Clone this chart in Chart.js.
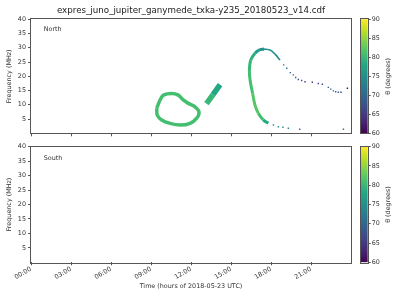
<!DOCTYPE html>
<html lang="en">
<head>
<meta charset="UTF-8">
<title>EXPRES Juno / Ganymede</title>
<script src="https://cdn.jsdelivr.net/npm/chart.js"></script>
<style>
  body { margin: 0; background: #fff; }
  .wrap { position: relative; width: 400px; height: 300px; }
  canvas { position: absolute; }
</style>
</head>
<body>
<div class="wrap">
  <canvas id="north" width="400" height="140" style="left:0;top:0"></canvas>
  <canvas id="south" width="400" height="160" style="left:0;top:140px"></canvas>
  <canvas id="cbNorth" width="60" height="140" style="left:340px;top:0"></canvas>
  <canvas id="cbSouth" width="60" height="160" style="left:340px;top:140px"></canvas>
</div>
<script>
// ---- data (time in hours of 2018-05-23, frequency in MHz, theta in degrees)
const xTickHours = [0, 3, 6, 9, 12, 15, 18, 21];
const xTickLabels = ['00:00', '03:00', '06:00', '09:00', '12:00', '15:00', '18:00', '21:00'];
const yTicks = [5, 10, 15, 20, 25, 30, 35, 40];
const cbTicks = [60, 65, 70, 75, 80, 85, 90];

// closed loop around 09:30-12:40
const loopTime  = [9.43, 9.68, 9.93, 10.55, 11.05, 11.42, 11.8, 12.3, 12.6, 12.43, 11.93, 11.18, 10.43, 9.8, 9.47, 9.43];
const loopFreq  = [8.8, 11.7, 13.4, 14.0, 13.4, 11.7, 10.5, 9.3, 7.5, 5.3, 3.5, 2.9, 3.5, 4.7, 6.4, 8.8];
const loopTheta = [81, 81, 81, 81, 81, 81, 81, 81, 81, 81, 81, 81, 81, 81, 81, 81];

// short diagonal blob near 13:00-14:15
const blobTime  = [13.16, 13.65, 14.18];
const blobFreq  = [10.4, 13.6, 17.1];
const blobTheta = [80, 78, 75];

// big arc: left side from bottom up to the peak
const arcTime  = [17.8, 17.42, 17.05, 16.8, 16.62, 16.43, 16.38, 16.48, 16.8, 17.1, 17.48];
const arcFreq  = [3.5, 4.7, 7.0, 9.9, 14.0, 18.7, 22.2, 25.7, 28.1, 29.2, 29.6];
const arcTheta = [78, 81, 82, 82, 81, 81, 80, 79, 77, 75, 75];

// arc: right side going down from the peak (thin)
const descTime  = [17.48, 17.93, 18.3, 18.68];
const descFreq  = [29.6, 29.2, 27.8, 25.7];
const descTheta = [75, 75, 74, 73];

// isolated dots (upper tail and lower tail)
const dotTime  = [18.95, 19.18, 19.45, 19.68, 19.85, 20.05, 20.3, 20.55, 21.1, 21.55, 21.85, 22.3, 22.48, 22.68, 22.85, 23.05, 23.25, 23.73,
                  18.18, 18.55, 18.9, 19.3, 20.15, 23.43];
const dotFreq  = [24.0, 22.8, 21.3, 20.5, 19.6, 18.9, 18.5, 18.1, 17.9, 17.5, 17.2, 16.1, 15.5, 14.9, 14.6, 14.4, 14.4, 15.8,
                  2.9, 2.3, 2.1, 1.75, 1.4, 1.4];
const dotTheta = [72, 71, 70, 69, 68, 67, 67, 66, 64, 65, 66, 69, 70, 70, 69, 68, 65, 61,
                  76, 75, 74, 73, 70, 72];

// ---- colours
const VIRIDIS = ['#440154', '#482475', '#414487', '#355f8d', '#2a788e', '#21918c',
                 '#22a884', '#44bf70', '#7ad151', '#bddf26', '#fde725'];

function hexRgb(h) {
    return [1, 3, 5].map(i => parseInt(h.slice(i, i + 2), 16));
}

function thetaColor(th) {
    let t = (th - 60) / 30;
    t = Math.max(0, Math.min(1, t)) * (VIRIDIS.length - 1);
    const i = Math.min(Math.floor(t), VIRIDIS.length - 2);
    const f = t - i;
    const a = hexRgb(VIRIDIS[i]), b = hexRgb(VIRIDIS[i + 1]);
    const c = a.map((v, k) => Math.round(v + (b[k] - v) * f));
    return `rgb(${c[0]},${c[1]},${c[2]})`;
}

const FONT = { family: 'DejaVu Sans', size: 6.4 };
const TEXT = '#333';
const SPINE = '#555';

// ---- plugins
const framePlugin = {
    id: 'frame',
    afterDraw(chart) {
        const { ctx, chartArea: a } = chart;
        ctx.save();
        ctx.strokeStyle = SPINE;
        ctx.lineWidth = 1;
        ctx.strokeRect(Math.round(a.left) - 0.5, Math.round(a.top) - 0.5,
                       Math.round(a.right - a.left) + 1, Math.round(a.bottom - a.top) + 1);
        ctx.restore();
    }
};

const textPlugin = {
    id: 'texts',
    afterDraw(chart, args, opts) {
        const ctx = chart.ctx;
        (opts.items || []).forEach(t => {
            ctx.save();
            ctx.font = `${t.size || 6.4}px "DejaVu Sans"`;
            ctx.fillStyle = t.color || TEXT;
            ctx.textAlign = t.align || 'left';
            ctx.textBaseline = 'middle';
            ctx.translate(t.x, t.y);
            ctx.rotate(t.rot || 0);
            ctx.fillText(t.text, 0, 0);
            ctx.restore();
        });
    }
};

function pts(xs, ys) {
    return xs.map((x, i) => ({ x: x, y: ys[i] }));
}

function lineSet(xs, ys, th, width) {
    return {
        data: pts(xs, ys),
        showLine: true,
        tension: 0.3,
        borderWidth: width,
        borderCapStyle: 'butt',
        borderJoinStyle: 'round',
        pointRadius: 0,
        borderColor: thetaColor(th[0]),
        segment: { borderColor: c => thetaColor(th[c.p0DataIndex]) }
    };
}

function scales(bottom) {
    return {
        x: {
            type: 'linear', min: 0, max: 24,
            afterBuildTicks: s => { s.ticks = xTickHours.map(v => ({ value: v })); },
            ticks: {
                display: bottom, autoSkip: false, minRotation: 30, maxRotation: 30,
                font: FONT, color: TEXT, padding: 0,
                callback: v => xTickLabels[xTickHours.indexOf(v)]
            },
            grid: { drawOnChartArea: false, tickLength: 3, color: SPINE },
            border: { display: false },
            title: { display: bottom, text: 'Time (hours of 2018-05-23 UTC)', font: FONT, color: TEXT, padding: { top: 0, bottom: 4 } },
            afterFit: s => { s.height = bottom ? 32 : 6.7; }
        },
        y: {
            min: 0, max: 40,
            afterBuildTicks: s => { s.ticks = yTicks.map(v => ({ value: v })); },
            ticks: { font: FONT, color: TEXT, padding: 2 },
            grid: { drawOnChartArea: false, tickLength: 3, color: SPINE },
            border: { display: false },
            title: { display: true, text: 'Frequency (MHz)', font: FONT, color: TEXT, padding: 0 },
            afterFit: s => { s.width = 25; }
        }
    };
}

// ---- North panel
new Chart(document.getElementById('north'), {
    type: 'scatter',
    data: {
        datasets: [
            lineSet(loopTime, loopFreq, loopTheta, 3.5),
            lineSet(blobTime, blobFreq, blobTheta, 5.5),
            lineSet(arcTime, arcFreq, arcTheta, 3),
            lineSet(descTime, descFreq, descTheta, 1.6),
            {
                data: pts(dotTime, dotFreq),
                pointStyle: 'rect',
                pointRadius: 1,
                borderWidth: 0,
                backgroundColor: dotTheta.map(thetaColor)
            }
        ]
    },
    options: {
        responsive: false,
        animation: false,
        events: [],
        layout: { padding: { left: 6, right: 49, top: 19.3, bottom: 0 } },
        plugins: {
            legend: { display: false },
            tooltip: { enabled: false },
            texts: {
                items: [
                    { text: 'expres_juno_jupiter_ganymede_txka-y235_20180523_v14.cdf', x: 191, y: 11, size: 8.7, align: 'center', color: '#222' },
                    { text: 'North', x: 43.7, y: 29.3 }
                ]
            }
        },
        scales: scales(false)
    },
    plugins: [framePlugin, textPlugin]
});

// ---- South panel (no emission)
new Chart(document.getElementById('south'), {
    type: 'scatter',
    data: { datasets: [{ data: [] }] },
    options: {
        responsive: false,
        animation: false,
        events: [],
        layout: { padding: { left: 6, right: 49, top: 6.7, bottom: 5.7 } },
        plugins: {
            legend: { display: false },
            tooltip: { enabled: false },
            texts: { items: [{ text: 'South', x: 43.7, y: 18.3 }] }
        },
        scales: scales(true)
    },
    plugins: [framePlugin, textPlugin]
});

// ---- colour bars
function colorbar(id, top, bottom) {
    return new Chart(document.getElementById(id), {
        type: 'bar',
        data: {
            labels: [''],
            datasets: [{
                data: [[cbTicks[0], cbTicks[cbTicks.length - 1]]],
                barPercentage: 1,
                categoryPercentage: 1,
                borderWidth: 0,
                backgroundColor: c => {
                    const a = c.chart.chartArea;
                    if (!a) return VIRIDIS[5];
                    const g = c.chart.ctx.createLinearGradient(0, a.bottom, 0, a.top);
                    VIRIDIS.forEach((col, i) => g.addColorStop(i / (VIRIDIS.length - 1), col));
                    return g;
                }
            }]
        },
        options: {
            responsive: false,
            animation: false,
            events: [],
            layout: { padding: { left: 20.7, right: 0, top: top, bottom: bottom } },
            plugins: {
                legend: { display: false },
                tooltip: { enabled: false },
                texts: { items: [{ text: 'θ (degrees)', x: 48, y: 0, rot: -Math.PI / 2, align: 'center' }] }
            },
            scales: {
                x: { display: false },
                y: {
                    position: 'right', min: cbTicks[0], max: cbTicks[cbTicks.length - 1],
                    afterBuildTicks: s => { s.ticks = cbTicks.map(v => ({ value: v })); },
                    ticks: { font: FONT, color: TEXT, padding: 1 },
                    grid: { drawOnChartArea: false, tickLength: 3, color: SPINE },
                    border: { display: false },
                    afterFit: s => { s.width = 32.3; }
                }
            }
        },
        plugins: [framePlugin, {
            id: 'cbLabelPos',
            beforeDraw(chart) {
                const a = chart.chartArea;
                chart.options.plugins.texts.items[0].y = (a.top + a.bottom) / 2;
            }
        }, textPlugin]
    });
}

colorbar('cbNorth', 19.3, 6.7);
colorbar('cbSouth', 6.7, 37.7);
</script>
</body>
</html>
